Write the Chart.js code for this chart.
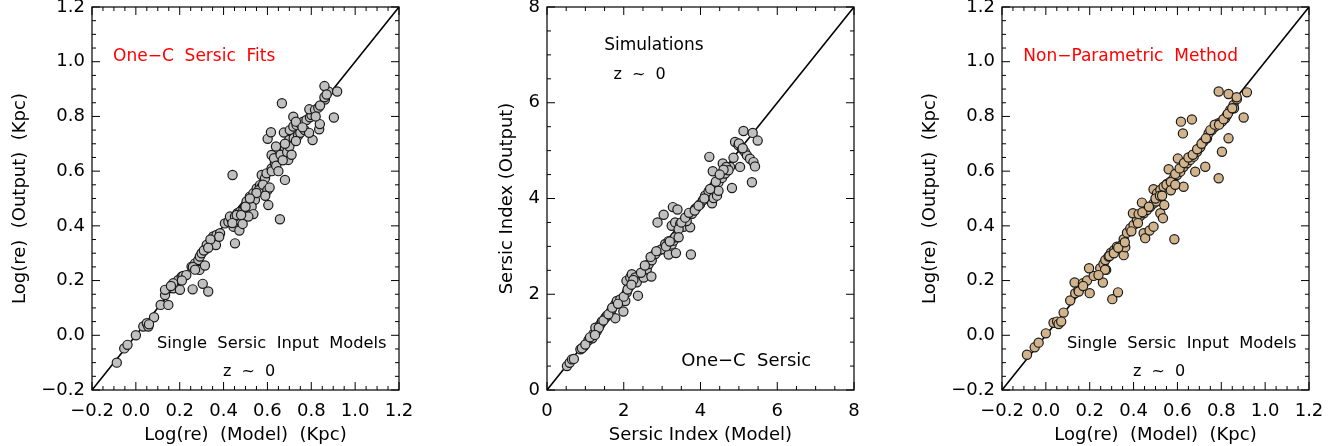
<!DOCTYPE html>
<html>
<head>
<meta charset="utf-8">
<script src="https://cdn.jsdelivr.net/npm/chart.js@4/dist/chart.umd.min.js"></script>
<style>
  body { margin: 0; background: #fff; width: 1338px; height: 446px; position: relative; overflow: hidden; }
  canvas { position: absolute; top: 0; }
</style>
</head>
<body>
<canvas id="c1" width="446" height="446" style="left:0px"></canvas>
<canvas id="c2" width="446" height="446" style="left:455px"></canvas>
<canvas id="c3" width="428" height="446" style="left:910px"></canvas>
<script>
// panel 1: one-component sersic fits, log(re)
const reModel1 = [-0.087,-0.053,-0.038,0.0,0.034,0.05,0.057,0.083,0.113,0.133,0.133,0.148,0.171,0.194,0.209,0.216,0.201,0.259,0.305,0.330,
  0.254,0.270,0.285,0.292,0.300,0.315,0.323,0.290,0.315,0.353,0.368,0.384,0.365,0.406,0.422,0.437,0.429,0.452,0.463,0.475,
  0.490,0.498,0.445,0.472,0.487,0.452,0.441,0.505,0.520,0.536,0.551,0.566,0.574,0.543,0.528,0.536,0.513,0.604,0.657,0.574,
  0.589,0.596,0.619,0.634,0.642,0.657,0.672,0.680,0.688,0.619,0.630,0.601,0.616,0.680,0.695,0.639,0.675,0.699,0.702,0.718,
  0.733,0.748,0.763,0.778,0.794,0.801,0.718,0.730,0.806,0.836,0.839,0.791,0.817,0.832,0.862,0.878,0.860,0.918,0.903,0.666,
  0.56,0.58,0.60,0.61,0.59,0.55,0.62,0.64,0.66,0.67,0.69,0.70,0.72,0.74,0.75,0.77,0.79,0.82,0.84,0.86,
  0.87,0.38,0.34,0.44,0.46,0.48,0.50,0.52,0.26,0.27,0.31,0.33,0.23,0.21,0.17,0.16,0.06,0.68,0.71,0.65,0.73,0.76];
const reOut1 = [-0.10,-0.048,-0.035,0.0,0.032,0.044,0.032,0.066,0.111,0.147,0.166,0.111,0.172,0.202,0.214,0.217,0.166,0.168,0.188,0.160,
  0.251,0.263,0.275,0.288,0.300,0.312,0.330,0.239,0.255,0.361,0.367,0.373,0.330,0.409,0.415,0.422,0.434,0.434,0.446,0.452,
  0.458,0.470,0.397,0.383,0.407,0.336,0.586,0.489,0.507,0.519,0.537,0.549,0.543,0.495,0.470,0.443,0.434,0.476,0.424,0.586,
  0.574,0.592,0.610,0.629,0.641,0.653,0.665,0.683,0.696,0.659,0.647,0.718,0.742,0.568,0.641,0.690,0.741,0.714,0.750,0.763,
  0.769,0.775,0.781,0.787,0.797,0.805,0.799,0.781,0.714,0.753,0.772,0.826,0.824,0.832,0.862,0.891,0.911,0.891,0.796,0.848,
  0.53,0.55,0.53,0.54,0.51,0.52,0.60,0.62,0.66,0.64,0.67,0.69,0.72,0.73,0.74,0.75,0.74,0.80,0.84,0.87,
  0.88,0.36,0.35,0.41,0.44,0.44,0.47,0.50,0.25,0.24,0.31,0.32,0.22,0.20,0.19,0.18,0.04,0.70,0.66,0.60,0.71,0.76];

// panel 2: sersic index
const nModel = [0.52,0.59,0.65,0.87,0.95,0.91,1.08,1.18,1.21,1.30,1.26,1.39,1.43,1.52,1.56,1.65,1.69,1.78,1.82,1.91,
  1.78,1.99,2.04,2.08,2.13,2.07,2.17,2.21,2.30,2.34,2.37,2.52,2.60,2.65,2.73,2.82,2.91,2.99,3.08,3.17,
  3.25,3.30,3.34,2.72,3.17,3.36,3.75,3.25,3.34,3.47,3.56,3.43,3.73,3.64,2.88,3.04,3.28,3.40,3.43,3.78,
  3.86,3.90,3.99,4.06,4.12,4.21,4.30,4.38,4.47,4.56,4.64,4.69,4.77,4.30,4.34,4.43,4.47,4.82,4.32,4.23,
  4.58,4.67,4.73,4.86,5.03,4.90,4.99,5.08,5.16,5.21,5.29,5.38,5.42,5.12,5.36,5.49,5.34,
  1.0,1.12,1.35,1.47,1.6,1.7,2.0,2.1,2.25,2.45,2.55,2.7,2.85,3.1,3.2,3.5,3.6,3.7,3.85,3.95,
  4.1,4.25,4.4,4.6,4.5,5.0,5.1,0.7,1.25,2.2,1.85];
const nOut = [0.50,0.57,0.64,0.85,0.90,0.87,1.04,1.08,1.17,1.23,1.30,1.37,1.43,1.51,1.55,1.62,1.69,1.79,1.86,1.89,
  1.50,1.64,1.86,2.04,2.14,2.28,2.35,2.42,2.35,2.25,1.97,2.35,2.52,2.63,2.71,2.84,2.91,2.94,3.05,3.11,
  3.04,3.12,3.19,2.37,2.83,2.86,2.83,3.43,3.50,3.47,3.41,3.36,3.40,3.53,3.50,3.66,3.82,3.77,3.19,3.68,
  3.78,3.81,3.88,3.96,4.06,4.15,4.22,4.29,4.34,4.43,4.52,4.62,4.66,3.90,4.01,4.06,4.16,4.22,4.57,4.87,
  4.73,4.66,4.59,4.85,4.66,5.18,5.11,5.04,4.97,4.90,4.83,4.76,4.67,5.41,5.37,5.21,4.34,
  0.95,1.1,1.3,1.45,1.58,1.72,1.95,2.1,2.3,2.45,2.6,2.78,2.9,3.0,3.1,3.5,3.6,3.7,3.75,3.85,
  4.0,4.2,4.35,4.6,4.5,5.15,5.05,0.65,1.15,2.2,1.8];

// panel 3: non-parametric method, log(re)
const reModel3 = [-0.086,-0.051,-0.033,0.0,0.035,0.051,0.058,0.081,0.111,0.134,0.149,0.131,0.200,0.169,0.188,0.218,0.197,0.260,0.303,0.329,
  0.248,0.263,0.271,0.286,0.297,0.312,0.324,0.347,0.355,0.275,0.355,0.362,0.370,0.385,0.400,0.415,0.430,0.446,0.461,0.476,
  0.491,0.503,0.397,0.423,0.438,0.446,0.453,0.473,0.491,0.522,0.534,0.540,0.586,0.491,0.507,0.522,0.537,0.552,0.567,0.583,
  0.598,0.613,0.628,0.628,0.560,0.602,0.643,0.658,0.674,0.689,0.704,0.719,0.735,0.742,0.757,0.772,0.788,0.803,0.818,0.826,
  0.841,0.856,0.871,0.681,0.727,0.788,0.803,0.833,0.902,0.858,0.788,0.833,0.917,0.616,0.666,0.625,
  0.44,0.47,0.50,0.52,0.55,0.57,0.59,0.61,0.63,0.65,0.67,0.69,0.71,0.73,0.75,0.77,0.79,0.81,0.83,0.85,
  0.87,0.29,0.31,0.33,0.36,0.39,0.42,0.27,0.24,0.15,0.17,0.07,0.57,0.59,0.53];
const reOut3 = [-0.071,-0.044,-0.027,0.007,0.046,0.050,0.041,0.083,0.127,0.154,0.166,0.193,0.154,0.190,0.200,0.217,0.245,0.193,0.132,0.157,
  0.245,0.261,0.275,0.288,0.302,0.312,0.324,0.330,0.351,0.239,0.293,0.322,0.375,0.391,0.403,0.422,0.436,0.446,0.458,0.470,
  0.482,0.489,0.446,0.443,0.485,0.373,0.355,0.383,0.397,0.446,0.428,0.476,0.351,0.534,0.519,0.531,0.543,0.553,0.561,0.574,
  0.586,0.598,0.616,0.543,0.607,0.646,0.629,0.641,0.653,0.671,0.687,0.708,0.720,0.738,0.750,0.763,0.775,0.781,0.793,0.805,
  0.824,0.842,0.863,0.598,0.616,0.574,0.671,0.720,0.796,0.830,0.891,0.882,0.888,0.781,0.789,0.738,
  0.45,0.47,0.50,0.51,0.55,0.56,0.59,0.61,0.63,0.65,0.66,0.68,0.70,0.72,0.75,0.77,0.77,0.79,0.81,0.83,
  0.87,0.29,0.30,0.32,0.34,0.38,0.41,0.24,0.22,0.16,0.18,0.05,0.53,0.55,0.51];

const reRange = [-0.2, 1.2];
const nRange = [0, 8];

const FONT = "'DejaVu Sans', sans-serif";

function fmtRe(v) {
    let r = Math.round(v * 10) / 10;
    return (r < 0 ? '\u2212' : '') + Math.abs(r).toFixed(1);
}

// box, inward ticks on all four sides, text notes
const framePlugin = {
    id: 'frame',
    afterDatasetsDraw(chart, args, opts) {
        const {ctx, chartArea: a, scales: {x, y}} = chart;
        ctx.save();
        ctx.strokeStyle = '#000';
        ctx.lineWidth = 1.2;
        ctx.strokeRect(a.left, a.top, a.right - a.left, a.bottom - a.top);
        ctx.lineWidth = 1;
        let nx = Math.round((x.max - x.min) / opts.minorX);
        for (let i = 0; i <= nx; i++) {
            let px = x.getPixelForValue(x.min + i * opts.minorX);
            let len = i % opts.perMajor === 0 ? 8 : 4;
            ctx.beginPath();
            ctx.moveTo(px, a.bottom); ctx.lineTo(px, a.bottom - len);
            ctx.moveTo(px, a.top); ctx.lineTo(px, a.top + len);
            ctx.stroke();
        }
        let ny = Math.round((y.max - y.min) / opts.minorY);
        for (let i = 0; i <= ny; i++) {
            let py = y.getPixelForValue(y.min + i * opts.minorY);
            let len = i % opts.perMajor === 0 ? 8 : 4;
            ctx.beginPath();
            ctx.moveTo(a.left, py); ctx.lineTo(a.left + len, py);
            ctx.moveTo(a.right, py); ctx.lineTo(a.right - len, py);
            ctx.stroke();
        }
        ctx.textBaseline = 'middle';
        ctx.textAlign = 'left';
        for (const n of opts.notes) {
            ctx.font = (n.size || 17) + 'px ' + FONT;
            ctx.fillStyle = n.color || '#000';
            ctx.fillText(n.text, x.getPixelForValue(n.x), y.getPixelForValue(n.y));
        }
        ctx.restore();
    }
};

function makePanel(id, xs, ys, fill, range, step, minor, fmt, xTitle, yTitle, yTitlePad, padRight, notes) {
    let pts = xs.map((v, i) => ({x: v, y: ys[i]}));
    let cfg = {
        type: 'scatter',
        data: {
            datasets: [
                {
                    data: pts,
                    backgroundColor: fill,
                    borderColor: '#1a1a1a',
                    borderWidth: 1.2,
                    pointRadius: 4.6,
                },
                {
                    type: 'line',
                    data: [{x: range[0], y: range[0]}, {x: range[1], y: range[1]}],
                    borderColor: '#000',
                    borderWidth: 1.6,
                    pointRadius: 0,
                    fill: false,
                },
            ]
        },
        options: {
            responsive: false,
            animation: false,
            layout: {padding: {left: 0, top: 7, right: padRight, bottom: 0}},
            plugins: {
                legend: {display: false},
                tooltip: {enabled: false},
                frame: {minorX: minor, minorY: minor, perMajor: Math.round(step / minor), notes: notes},
            },
            scales: {
                x: {
                    type: 'linear', min: range[0], max: range[1],
                    grid: {display: false, drawTicks: false},
                    border: {display: false},
                    ticks: {stepSize: step, color: '#000', font: {family: FONT, size: 18}, padding: 11,
                        maxRotation: 0, autoSkip: false, callback: fmt},
                    title: {display: true, text: xTitle, color: '#000', font: {family: FONT, size: 18},
                        padding: {top: 0, bottom: 0}},
                    afterFit: s => { s.height = 56; s.paddingLeft = 0; s.paddingRight = 0; },
                },
                y: {
                    type: 'linear', min: range[0], max: range[1],
                    grid: {display: false, drawTicks: false},
                    border: {display: false},
                    ticks: {stepSize: step, color: '#000', font: {family: FONT, size: 18}, padding: 7,
                        autoSkip: false, callback: fmt},
                    title: {display: true, text: yTitle, color: '#000', font: {family: FONT, size: 18},
                        padding: {top: yTitlePad, bottom: 0}},
                    afterFit: s => { s.width = 92; s.paddingTop = 0; s.paddingBottom = 0; },
                },
            }
        },
        plugins: [framePlugin]
    };
    return new Chart(document.getElementById(id), cfg);
}

makePanel('c1', reModel1, reOut1, '#c0c0c0', reRange, 0.2, 0.05, fmtRe,
    'Log(re)  (Model)  (Kpc)', 'Log(re)  (Output)  (Kpc)', 9.2, 47,
    [{text: 'One\u2212C  Sersic  Fits', x: -0.104, y: 1.017, color: '#ff0000'},
     {text: 'Single  Sersic  Input  Models', x: 0.096, y: -0.032, size: 16.3},
     {text: 'z  ~  0', x: 0.397, y: -0.134, size: 16}]);

makePanel('c2', nModel, nOut, '#c0c0c0', nRange, 2, 0.5, v => String(Math.round(v)),
    'Sersic Index (Model)', 'Sersic Index (Output)', 41.2, 47,
    [{text: 'Simulations', x: 1.49, y: 7.2},
     {text: 'z  ~  0', x: 1.73, y: 6.58, size: 16},
     {text: 'One\u2212C  Sersic', x: 3.5, y: 0.59, size: 18}]);

makePanel('c3', reModel3, reOut3, '#d2b48c', reRange, 0.2, 0.05, fmtRe,
    'Log(re)  (Model)  (Kpc)', 'Log(re)  (Output)  (Kpc)', 9.2, 29,
    [{text: 'Non\u2212Parametric  Method', x: -0.103, y: 1.017, color: '#ff0000'},
     {text: 'Single  Sersic  Input  Models', x: 0.096, y: -0.032, size: 16.3},
     {text: 'z  ~  0', x: 0.397, y: -0.134, size: 16}]);
</script>
</body>
</html>
